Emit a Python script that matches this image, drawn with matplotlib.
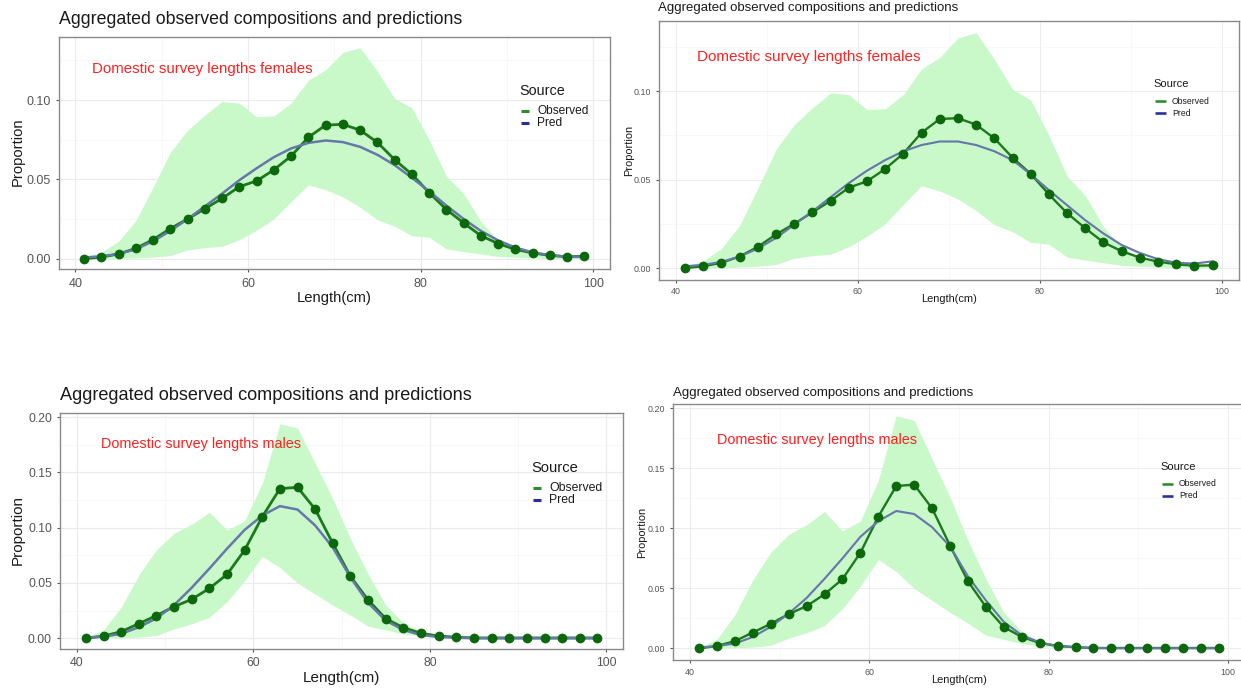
import matplotlib
matplotlib.use("Agg")
import matplotlib.pyplot as plt
from matplotlib.lines import Line2D
from matplotlib.ticker import MultipleLocator

plt.rcParams['font.family'] = ['Liberation Sans', 'DejaVu Sans']

# ---- data -------------------------------------------------------------
length_cm = list(range(41, 100, 2))

fem_obs = [0.000, 0.001, 0.003, 0.0065, 0.012, 0.019, 0.025, 0.0315, 0.038, 0.0454,
           0.049, 0.056, 0.0647, 0.0765, 0.0842, 0.0847, 0.081, 0.0733, 0.0624, 0.0532,
           0.0416, 0.031, 0.0225, 0.0145, 0.0095, 0.0059, 0.0036, 0.0021, 0.0013, 0.0015]
fem_pred_a = [0.0008, 0.0015, 0.003, 0.006, 0.011, 0.0175, 0.025, 0.033, 0.041, 0.0495,
              0.057, 0.064, 0.0695, 0.073, 0.0745, 0.0735, 0.0705, 0.0655, 0.059, 0.051,
              0.0425, 0.0335, 0.025, 0.0175, 0.0115, 0.007, 0.004, 0.0022, 0.0012, 0.0012]
fem_pred_b = [0.001, 0.0018, 0.0035, 0.0065, 0.011, 0.017, 0.0245, 0.032, 0.040, 0.048,
              0.055, 0.061, 0.066, 0.0695, 0.0715, 0.0715, 0.0695, 0.066, 0.061, 0.053,
              0.044, 0.0355, 0.027, 0.0195, 0.013, 0.0085, 0.005, 0.003, 0.0025, 0.0038]
fem_upper = [0.001, 0.004, 0.011, 0.024, 0.045, 0.067, 0.081, 0.0905, 0.099, 0.098,
             0.0895, 0.090, 0.098, 0.1125, 0.119, 0.130, 0.133, 0.118, 0.101, 0.095,
             0.075, 0.052, 0.041, 0.0233, 0.0118, 0.0055, 0.003, 0.0017, 0.001, 0.001]
fem_lower = [0.0, 0.0, 0.0001, 0.0005, 0.001, 0.002, 0.0055, 0.007, 0.0078, 0.012,
             0.018, 0.025, 0.036, 0.0465, 0.0435, 0.039, 0.0325, 0.0245, 0.0205, 0.0145,
             0.0135, 0.0062, 0.0045, 0.003, 0.0015, 0.001, 0.0005, 0.0002, 0.0, 0.0]

mal_obs = [0.000, 0.002, 0.006, 0.0132, 0.0205, 0.0286, 0.0352, 0.0451, 0.0577, 0.0797,
           0.1098, 0.1353, 0.1365, 0.1167, 0.0857, 0.0559, 0.0346, 0.0177, 0.0096, 0.0045,
           0.002, 0.001, 0.0003, 0.0003, 0.0003, 0.0003, 0.0003, 0.0003, 0.0003, 0.0003]
mal_pred_a = [0.0005, 0.0015, 0.004, 0.010, 0.018, 0.030, 0.0457, 0.063, 0.081, 0.098,
              0.111, 0.1195, 0.1164, 0.102, 0.082, 0.055, 0.032, 0.016, 0.0075, 0.003,
              0.0012, 0.0004, 0.0001, 0.0001, 0.0001, 0.0001, 0.0001, 0.0001, 0.0001, 0.0001]
mal_pred_b = [0.0005, 0.002, 0.004, 0.0095, 0.018, 0.029, 0.042, 0.058, 0.075, 0.093,
              0.106, 0.1145, 0.112, 0.101, 0.085, 0.060, 0.040, 0.022, 0.011, 0.005,
              0.002, 0.001, 0.0003, 0.0001, 0.0001, 0.0001, 0.0001, 0.0001, 0.0001, 0.0001]
mal_upper = [0.001, 0.0075, 0.028, 0.057, 0.080, 0.095, 0.103, 0.114, 0.098, 0.106,
             0.140, 0.194, 0.190, 0.158, 0.126, 0.090, 0.058, 0.030, 0.014, 0.006,
             0.002, 0.001, 0.0005, 0.0, 0.0, 0.0, 0.0, 0.0, 0.0, 0.0]
mal_lower = [0.0, 0.0, 0.0005, 0.001, 0.0025, 0.0085, 0.013, 0.019, 0.033, 0.052,
             0.074, 0.064, 0.050, 0.040, 0.030, 0.021, 0.011, 0.0075, 0.004, 0.002,
             0.0008, 0.0, 0.0, 0.0, 0.0, 0.0, 0.0, 0.0, 0.0, 0.0]

title_text = "Aggregated observed compositions and predictions"
fem_label = "Domestic survey lengths females"
mal_label = "Domestic survey lengths males"
legend_title = "Source"
legend_labels = ["Observed", "Pred"]
x_label = "Length(cm)"
y_label = "Proportion"

# ---- styling ------------------------------------------------------------
W, H = 1241, 690
RIBBON = "#c9f8c9"
OBS_LINE = "#1b7a1b"
OBS_PT = "#0b680b"
PRED_LINE = "#6678aa"
KEY_OBS = "#2e8b2e"
KEY_PRED = "#2b2ba0"
GRID_MAJ = "#ebebeb"
GRID_MIN = "#f4f4f4"

fig = plt.figure(figsize=(W / 100, H / 100), dpi=100)
fig.patch.set_facecolor("white")


def fx(px):
    return px / W


def fy(py):
    return 1 - py / H


def panel(box, ylim, ymaj, ymin, obs, pred, upper, lower, label, s):
    left, top, right, bottom = box
    ax = fig.add_axes([fx(left), fy(bottom), fx(right - left), (bottom - top) / H])
    ax.set_xlim(38.1, 101.9)
    ax.set_ylim(*ylim)
    ax.xaxis.set_major_locator(MultipleLocator(20))
    ax.xaxis.set_minor_locator(MultipleLocator(10))
    ax.yaxis.set_major_locator(MultipleLocator(ymaj))
    ax.yaxis.set_minor_locator(MultipleLocator(ymin))
    ax.grid(which="major", color=GRID_MAJ, lw=0.8 * s["k"], zorder=0)
    ax.grid(which="minor", color=GRID_MIN, lw=0.5 * s["k"], zorder=0)
    ax.set_axisbelow(True)
    for sp in ax.spines.values():
        sp.set_color("#8a8a8a")
        sp.set_linewidth(1.0)
    ax.tick_params(which="major", length=2.5, width=0.8, color="#555555",
                   labelsize=s["tick"], labelcolor="#555555", pad=s["pad"])
    ax.tick_params(which="minor", length=0)
    ax.yaxis.set_major_formatter(plt.FuncFormatter(lambda v, p: f"{v:.2f}"))

    ax.fill_between(length_cm, lower, upper, color=RIBBON, lw=0, zorder=1)
    ax.plot(length_cm, obs, color=OBS_LINE, lw=2.0 * s["k"], zorder=2)
    ax.plot(length_cm, pred, color=PRED_LINE, lw=1.8 * s["k"], zorder=3)
    ax.plot(length_cm, obs, ls="none", marker="o", ms=s["ms"], color=OBS_PT,
            zorder=4)

    # title, axis labels, annotation, legend
    fig.text(fx(s["title_xy"][0]), fy(s["title_xy"][1]), title_text,
             fontsize=s["title"], ha="left", va="center", color="#1a1a1a")
    fig.text(fx(s["xlab_xy"][0]), fy(s["xlab_xy"][1]), x_label,
             fontsize=s["lab"], ha="center", va="center", color="#1a1a1a")
    fig.text(fx(s["ylab_xy"][0]), fy(s["ylab_xy"][1]), y_label,
             fontsize=s["lab"], ha="center", va="center", rotation=90,
             color="#1a1a1a")
    fig.text(fx(s["ann_xy"][0]), fy(s["ann_xy"][1]), label,
             fontsize=s["ann"], ha="left", va="center", color="#ff2020")

    lx, ly = s["leg_xy"]
    fig.text(fx(lx), fy(ly), legend_title, fontsize=s["legt"], ha="left",
             va="center", color="#1a1a1a")
    kl = s["key_len"]
    for i, (txt, col) in enumerate(zip(legend_labels, [KEY_OBS, KEY_PRED])):
        yy = ly + s["leg_row0"] + i * s["leg_step"]
        fig.add_artist(Line2D([fx(lx + 2), fx(lx + 2 + kl)], [fy(yy), fy(yy)],
                              transform=fig.transFigure, color=col,
                              lw=2.2 * s["k"], solid_capstyle="butt"))
        fig.text(fx(lx + 2 + kl + s["key_gap"]), fy(yy), txt, fontsize=s["legl"],
                 ha="left", va="center", color="#1a1a1a")
    return ax


big = dict(k=1.0, tick=9.0, lab=10.6, title=12.8, ann=10.8, legt=10.4, legl=8.6,
           key_len=8, key_gap=8, leg_row0=20, leg_step=12, ms=6.0, pad=3.5)
small = dict(k=0.85, tick=6.4, lab=7.9, title=9.5, ann=11.0, legt=8.0, legl=6.2,
             key_len=11, key_gap=6, leg_row0=17, leg_step=12, ms=6.0, pad=3.0)

# top-left: females
panel((59, 37.2, 609.5, 269.2), (-0.0066, 0.1396), 0.05, 0.025,
      fem_obs, fem_pred_a, fem_upper, fem_lower, fem_label,
      dict(big, title_xy=(59, 20), xlab_xy=(334, 298), ylab_xy=(18, 152),
           ann_xy=(92, 69), leg_xy=(519, 91)))

# top-right: females
panel((658.7, 21, 1239, 279.7), (-0.0066, 0.1396), 0.05, 0.025,
      fem_obs, fem_pred_b, fem_upper, fem_lower, fem_label,
      dict(small, title_xy=(658, 8), xlab_xy=(949, 299), ylab_xy=(629, 150),
           ann_xy=(697, 57), leg_xy=(1153, 84)))

# bottom-left: males
panel((60.3, 413, 623, 649), (-0.0097, 0.2037), 0.05, 0.025,
      mal_obs, mal_pred_a, mal_upper, mal_lower, mal_label,
      dict(big, tick=8.8, lab=11.0, title=13.1, ann=10.4, legt=10.6, legl=8.8,
           title_xy=(60, 395), xlab_xy=(341, 678), ylab_xy=(18, 530),
           ann_xy=(101, 444), leg_xy=(531, 468)))

# bottom-right: males
panel((673, 404, 1245, 660), (-0.0097, 0.2037), 0.05, 0.025,
      mal_obs, mal_pred_b, mal_upper, mal_lower, mal_label,
      dict(small, ann=10.4, title_xy=(673, 393), xlab_xy=(959, 680),
           ylab_xy=(642, 532), ann_xy=(717, 440), leg_xy=(1160, 467)))

fig.savefig("out.png", dpi=100, facecolor="white")
